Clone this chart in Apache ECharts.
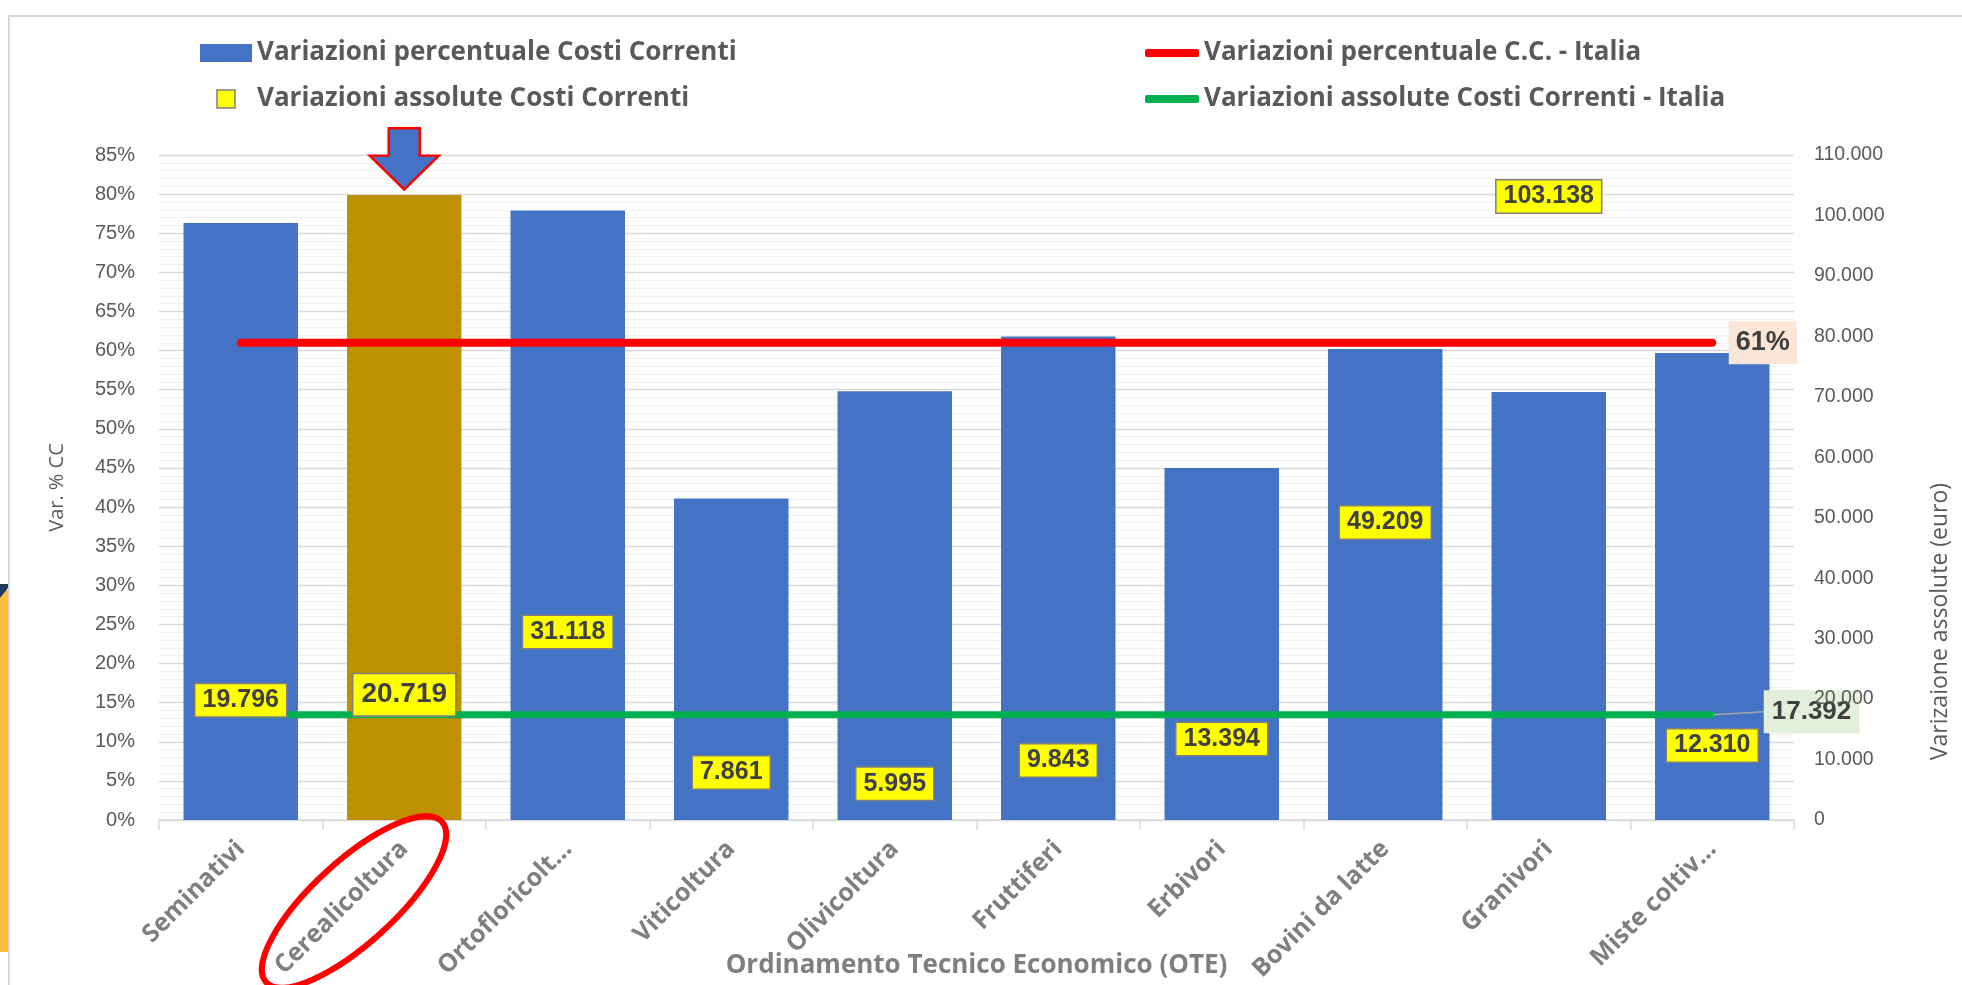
<!DOCTYPE html>
<html><head><meta charset="utf-8">
<script src="https://cdn.jsdelivr.net/npm/echarts@6/dist/echarts.min.js"></script>
<style>html,body{margin:0;padding:0;background:#fff}#c{width:1962px;height:985px}</style>
</head><body><div id="c"></div>
<script>
const categories = ['Seminativi','Cerealicoltura','Ortofloricolt…','Viticoltura','Olivicoltura','Fruttiferi','Erbivori','Bovini da latte','Granivori','Miste coltiv…'];
const varPercentuale = [76.3, 79.9, 77.9, 41.1, 54.8, 61.8, 45.0, 60.2, 54.7, 59.7];
const varAssolute = [19796, 20719, 31118, 7861, 5995, 9843, 13394, 49209, 103138, 12310];
const italiaPercentuale = 61;
const italiaAssolute = 17392;
const leftAxisTicks = { min: 0, max: 85, interval: 5 };
const rightAxisTicks = { min: 0, max: 110000, interval: 10000 };
const highlighted = 'Cerealicoltura';
const seriesNames = ['Variazioni percentuale Costi Correnti','Variazioni assolute Costi Correnti','Variazioni percentuale C.C. - Italia','Variazioni assolute Costi Correnti - Italia'];

const fmtThousands = v => String(Math.round(v)).replace(/\B(?=(\d{3})+(?!\d))/g, '.');
const SANS = "'Open Sans', sans-serif";
const LIB = "'Liberation Sans', Arial, sans-serif";
const lastIdx = categories.length - 1;
const hiIdx = categories.indexOf(highlighted);

const chart = echarts.init(document.getElementById('c'), null, { renderer: 'canvas' });
const legendText = { fontFamily: SANS, fontSize: 26, fontWeight: 'bold', color: '#595959', lineHeight: 30 };
const yellowLabel = {
  show: true, position: 'inside', formatter: p => fmtThousands(p.value),
  fontFamily: LIB, fontSize: 25, fontWeight: 'bold', color: '#404040', lineHeight: 26,
  backgroundColor: '#FFFF00', borderColor: '#7F7F7F', borderWidth: 1.5, padding: [3, 7, 3, 7]
};

chart.setOption({
  animation: false,
  backgroundColor: '#ffffff',
  graphic: [
    { type: 'rect', shape: { x: 9, y: 16, width: 2000, height: 1000 }, style: { fill: 'none', stroke: '#D9D9D9', lineWidth: 2 }, z: -10 },
    { type: 'rect', shape: { x: 0, y: 590, width: 8, height: 362 }, style: { fill: '#FBBE3E' }, z: -9 },
    { type: 'polygon', shape: { points: [[0,584],[8,584],[8,588],[0,598]] }, style: { fill: '#1F3A5F' }, z: -9 },
    { type: 'ellipse', x: 354, y: 902, rotation: 0.74, shape: { cx: 0, cy: 0, rx: 119, ry: 41 }, style: { fill: 'none', stroke: '#FF0000', lineWidth: 6 }, z: 50 }
  ],
  legend: [
    {
      orient: 'vertical', left: 195, top: 33, itemGap: 16, itemWidth: 52, itemHeight: 18,
      textStyle: legendText,
      data: [
        { name: seriesNames[0], icon: 'rect', itemStyle: { color: '#4472C4' } },
        { name: seriesNames[1], icon: 'path://M0,0h4v4h-4z', itemStyle: { color: '#FFFF00', borderColor: '#7F7F7F', borderWidth: 1.5 } }
      ]
    },
    {
      orient: 'vertical', left: 1140, top: 33, itemGap: 16, itemWidth: 54, itemHeight: 8,
      textStyle: legendText,
      data: [
        { name: seriesNames[2], icon: 'roundRect', itemStyle: { color: '#FF0000' } },
        { name: seriesNames[3], icon: 'roundRect', itemStyle: { color: '#00B050' } }
      ]
    }
  ],
  grid: { left: 159, right: 168, top: 155, bottom: 165, containLabel: false, outerBoundsMode: 'none' },
  xAxis: {
    type: 'category', data: categories,
    name: 'Ordinamento Tecnico Economico (OTE)', nameLocation: 'middle', nameGap: 133, nameMoveOverlap: false,
    nameTextStyle: { fontFamily: SANS, fontSize: 26, fontWeight: 'bold', color: '#7F7F7F' },
    axisLine: { lineStyle: { color: '#D9D9D9', width: 1.5 } },
    axisTick: { show: true, length: 10, lineStyle: { color: '#D9D9D9', width: 1.5 } },
    axisLabel: { rotate: 45, margin: 25, fontFamily: SANS, fontSize: 25, fontWeight: 'bold', color: '#7F7F7F', interval: 0 }
  },
  yAxis: [
    {
      type: 'value', min: leftAxisTicks.min, max: leftAxisTicks.max, interval: leftAxisTicks.interval,
      name: 'Var. % CC', nameLocation: 'middle', nameGap: 92, nameMoveOverlap: false,
      nameTextStyle: { fontFamily: SANS, fontSize: 20, color: '#595959' },
      axisLine: { show: false }, axisTick: { show: false },
      axisLabel: { formatter: '{value}%', margin: 24, fontFamily: LIB, fontSize: 20, color: '#595959' },
      splitLine: { lineStyle: { color: '#D9D9D9', width: 1.3 } },
      minorTick: { show: false, splitNumber: 5 },
      minorSplitLine: { show: true, lineStyle: { color: '#EFEFEF', width: 1 } }
    },
    {
      type: 'value', min: rightAxisTicks.min, max: rightAxisTicks.max, interval: rightAxisTicks.interval, z: 10,
      name: 'Varizaione assolute (euro)', nameLocation: 'middle', nameGap: 135, nameRotate: 90, nameMoveOverlap: false,
      nameTextStyle: { fontFamily: SANS, fontSize: 23, color: '#595959', padding: [0, 268, 0, 0] },
      axisLine: { show: false }, axisTick: { show: false },
      axisLabel: { formatter: v => fmtThousands(v), margin: 20, fontFamily: LIB, fontSize: 19.5, color: '#595959' },
      splitLine: { show: false }
    }
  ],
  series: [
    {
      name: seriesNames[0], type: 'bar', yAxisIndex: 0, barCategoryGap: '30%', z: 2,
      itemStyle: { color: '#4472C4' },
      data: varPercentuale.map((v, i) => i === hiIdx ? { value: v, itemStyle: { color: '#BF9000' } } : v),
      markPoint: {
        symbol: 'path://M19,0L50,0L50,29L69,29L34.5,65L0,29L19,29Z',
        symbolSize: [69, 65], symbolOffset: [0, -36], symbolKeepAspect: true,
        itemStyle: { color: '#4472C4', borderColor: '#FF0000', borderWidth: 2.5 },
        label: { show: false },
        data: [{ coord: [highlighted, varPercentuale[hiIdx]] }]
      }
    },
    {
      name: seriesNames[2], type: 'line', yAxisIndex: 0, z: 4,
      symbol: 'circle', symbolSize: 1, showSymbol: true,
      itemStyle: { color: '#FF0000' },
      lineStyle: { color: '#FF0000', width: 8, cap: 'round' },
      data: categories.map((c, i) => i === lastIdx ? {
        value: italiaPercentuale,
        label: { show: true, position: 'right', distance: 16, formatter: p => Math.round(p.value) + '%',
          fontFamily: LIB, fontSize: 27, fontWeight: 'bold', color: '#404040', lineHeight: 30,
          backgroundColor: '#FBE5D6', padding: [7, 7, 6, 7] }
      } : italiaPercentuale)
    },
    {
      name: seriesNames[3], type: 'line', yAxisIndex: 1, z: 4,
      symbol: 'circle', symbolSize: 1, showSymbol: true,
      itemStyle: { color: '#00B050' },
      lineStyle: { color: '#00B050', width: 7, cap: 'round' },
      labelLayout: { dx: 46, dy: -3 },
      labelLine: { show: true, lineStyle: { color: '#A6A6A6', width: 1.5 } },
      data: categories.map((c, i) => i === lastIdx ? {
        value: italiaAssolute,
        label: { show: true, position: 'right', distance: 5, formatter: p => fmtThousands(p.value),
          fontFamily: LIB, fontSize: 26, fontWeight: 'bold', color: '#404040', lineHeight: 30,
          backgroundColor: '#E2EFDA', padding: [7, 8, 6, 8] }
      } : italiaAssolute)
    },
    {
      name: seriesNames[1], type: 'scatter', yAxisIndex: 1, z: 6,
      symbol: 'rect', symbolSize: 1,
      itemStyle: { color: 'rgba(0,0,0,0)', opacity: 1 },
      label: yellowLabel,
      data: varAssolute.map((v, i) => i === hiIdx ? { value: v, label: { fontSize: 28, lineHeight: 30, padding: [6, 8, 5, 8] } } : v)
    }
  ]
});
</script>
</body></html>
